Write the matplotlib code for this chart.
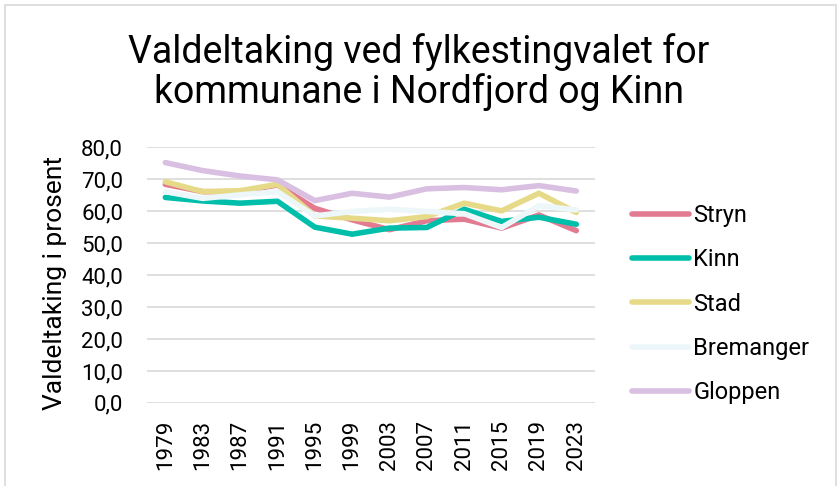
import matplotlib
matplotlib.use("Agg")
import matplotlib.pyplot as plt
from matplotlib.patches import Rectangle

plt.rcParams['font.family'] = ['Roboto', 'DejaVu Sans']

years = ["1979", "1983", "1987", "1991", "1995", "1999",
         "2003", "2007", "2011", "2015", "2019", "2023"]

stryn = [68.4, 66.1, 66.1, 68.2, 60.9, 57.3, 54.2, 57.0, 57.5, 54.7, 58.8, 53.9]
kinn = [64.3, 63.2, 62.5, 63.1, 55.0, 52.8, 54.7, 54.9, 60.6, 56.8, 58.1, 55.9]
stad = [69.2, 66.1, 66.4, 68.4, 58.5, 57.8, 57.0, 58.3, 62.5, 60.1, 65.6, 59.6]
bremanger = [66.1, 64.0, 65.1, 66.1, 58.5, 59.9, 60.6, 59.9, 59.2, 54.9, 61.7, 60.4]
gloppen = [75.2, 72.7, 71.0, 69.8, 63.3, 65.6, 64.4, 67.0, 67.4, 66.7, 68.0, 66.3]

series = [
    ("Stryn", stryn, "#E27B92"),
    ("Kinn", kinn, "#00BFAA"),
    ("Stad", stad, "#E6DA88"),
    ("Bremanger", bremanger, "#EDF7FA"),
    ("Gloppen", gloppen, "#D9BFE1"),
]

fig = plt.figure(figsize=(8.38, 4.86), dpi=100)
ax = fig.add_axes([0.175, 0.171, 0.535, 0.526])

x = list(range(len(years)))
for name, vals, color in series:
    ax.plot(x, vals, color=color, lw=4, label=name, solid_capstyle='round',
            solid_joinstyle='round')

ax.set_xlim(-0.5, len(years) - 0.5)
ax.set_ylim(0, 80)
ax.set_yticks(range(0, 81, 10))
ax.set_yticklabels([f"{v},0" for v in range(0, 81, 10)], fontsize=16)
ax.set_xticks(x)
ax.set_xticklabels(years, rotation=90, fontsize=16)
ax.tick_params(axis='y', length=0, pad=17)
ax.tick_params(axis='x', length=0, pad=12)
ax.grid(axis='y', color='#D9D9D9', lw=1.2)
ax.set_axisbelow(True)
for s in ax.spines.values():
    s.set_visible(False)

fig.text(55 / 838, 0.418, "Valdeltaking i prosent", rotation=90,
         ha='center', va='center', fontsize=19)

fig.text(0.5, 0.852, "Valdeltaking ved fylkestingvalet for\nkommunane i Nordfjord og Kinn",
         ha='center', va='center', fontsize=27, linespacing=1.08)

ax.legend(loc='center left', bbox_to_anchor=(632 / 838, 0.374),
          bbox_transform=fig.transFigure, frameon=False, borderaxespad=0,
          borderpad=0, fontsize=17, handlelength=2.4, handletextpad=0.2,
          labelspacing=0.9)

fig.patches.append(Rectangle((5 / 838, -0.01), 831 / 838, 1 - 5 / 486 + 0.01,
                             transform=fig.transFigure, fill=False,
                             edgecolor='#D9D9D9', lw=1.2))

fig.savefig("out.png", dpi=100)
